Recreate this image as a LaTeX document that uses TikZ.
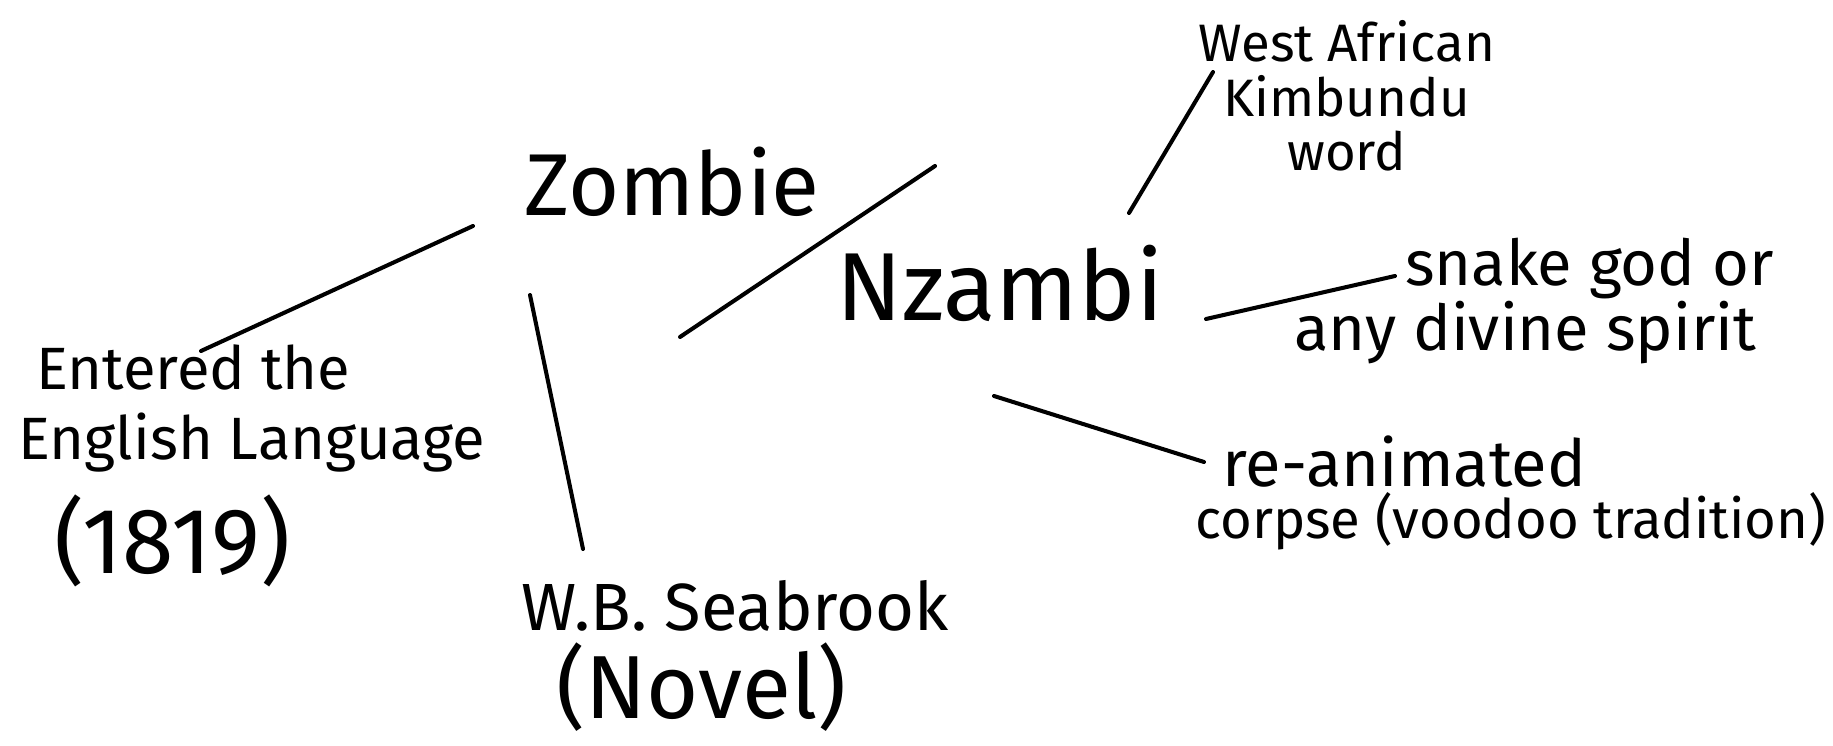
\documentclass[tikz,border=0pt]{standalone}
\usepackage{fontspec}
\setmainfont{Fira Sans}
\begin{document}
\begin{tikzpicture}[x=0.02cm,y=-0.02cm,
  word node/.style={inner sep=0pt,font=\fontsize{34}{36}\selectfont},
  stroke/.style={line width=2.3pt,line cap=round}]
  \useasboundingbox[fill=white] (0,0) rectangle (1833,746);

  \node[word node,anchor=base west,font=\fontsize{50}{50}\selectfont] (zombie) at (524,216) {Zombie};
  \node[word node,anchor=base west,font=\fontsize{55}{55}\selectfont] (nzambi) at (836,321) {Nzambi};
  \node[word node,anchor=west,align=center,font=\fontsize{30}{31}\selectfont] (westaf) at (1198,96) {West African\\Kimbundu\\word};
  \node[word node,anchor=west,align=left,font=\fontsize{36}{34}\selectfont] (snake) at (1294,301) {\hspace*{1.75em}snake god or\\any divine spirit};
  \node[word node,anchor=west,align=left,font=\fontsize{31}{30}\selectfont] (reanim) at (1195,493) {\hspace*{0.5em}{\fontsize{37}{30}\selectfont re-animated}\\corpse (voodoo tradition)};
  \node[word node,anchor=west,align=left,font=\fontsize{34}{40}\selectfont] (entered) at (18,466) {\hspace*{0.3em}Entered the\\English Language\\[12pt]\hspace*{0.6em}\fontsize{53}{52}\selectfont(1819)};
  \node[word node,align=center,font=\fontsize{38}{50}\selectfont] (seab) at (735,656) {W.B. Seabrook\\\fontsize{51}{50}\selectfont(Novel)\hspace*{38pt}};

  \path[stroke]
   ([shift={(-51,10)}]zombie.base west) edge ([shift={(183,-115)}]entered.west)
   ([shift={(6,79)}]zombie.base west) edge ([shift={(-152,-107)}]seab.center)
   ([shift={(411,-50)}]zombie.base west) edge ([shift={(-156,16)}]nzambi.base west)
   ([shift={(293,-108)}]nzambi.base west) edge ([shift={(15,-24)}]westaf.west)
   ([shift={(370,-2)}]nzambi.base west) edge ([shift={(101,-25)}]snake.west)
   ([shift={(158,75)}]nzambi.base west) edge ([shift={(9,-31)}]reanim.west);
\end{tikzpicture}
\end{document}
